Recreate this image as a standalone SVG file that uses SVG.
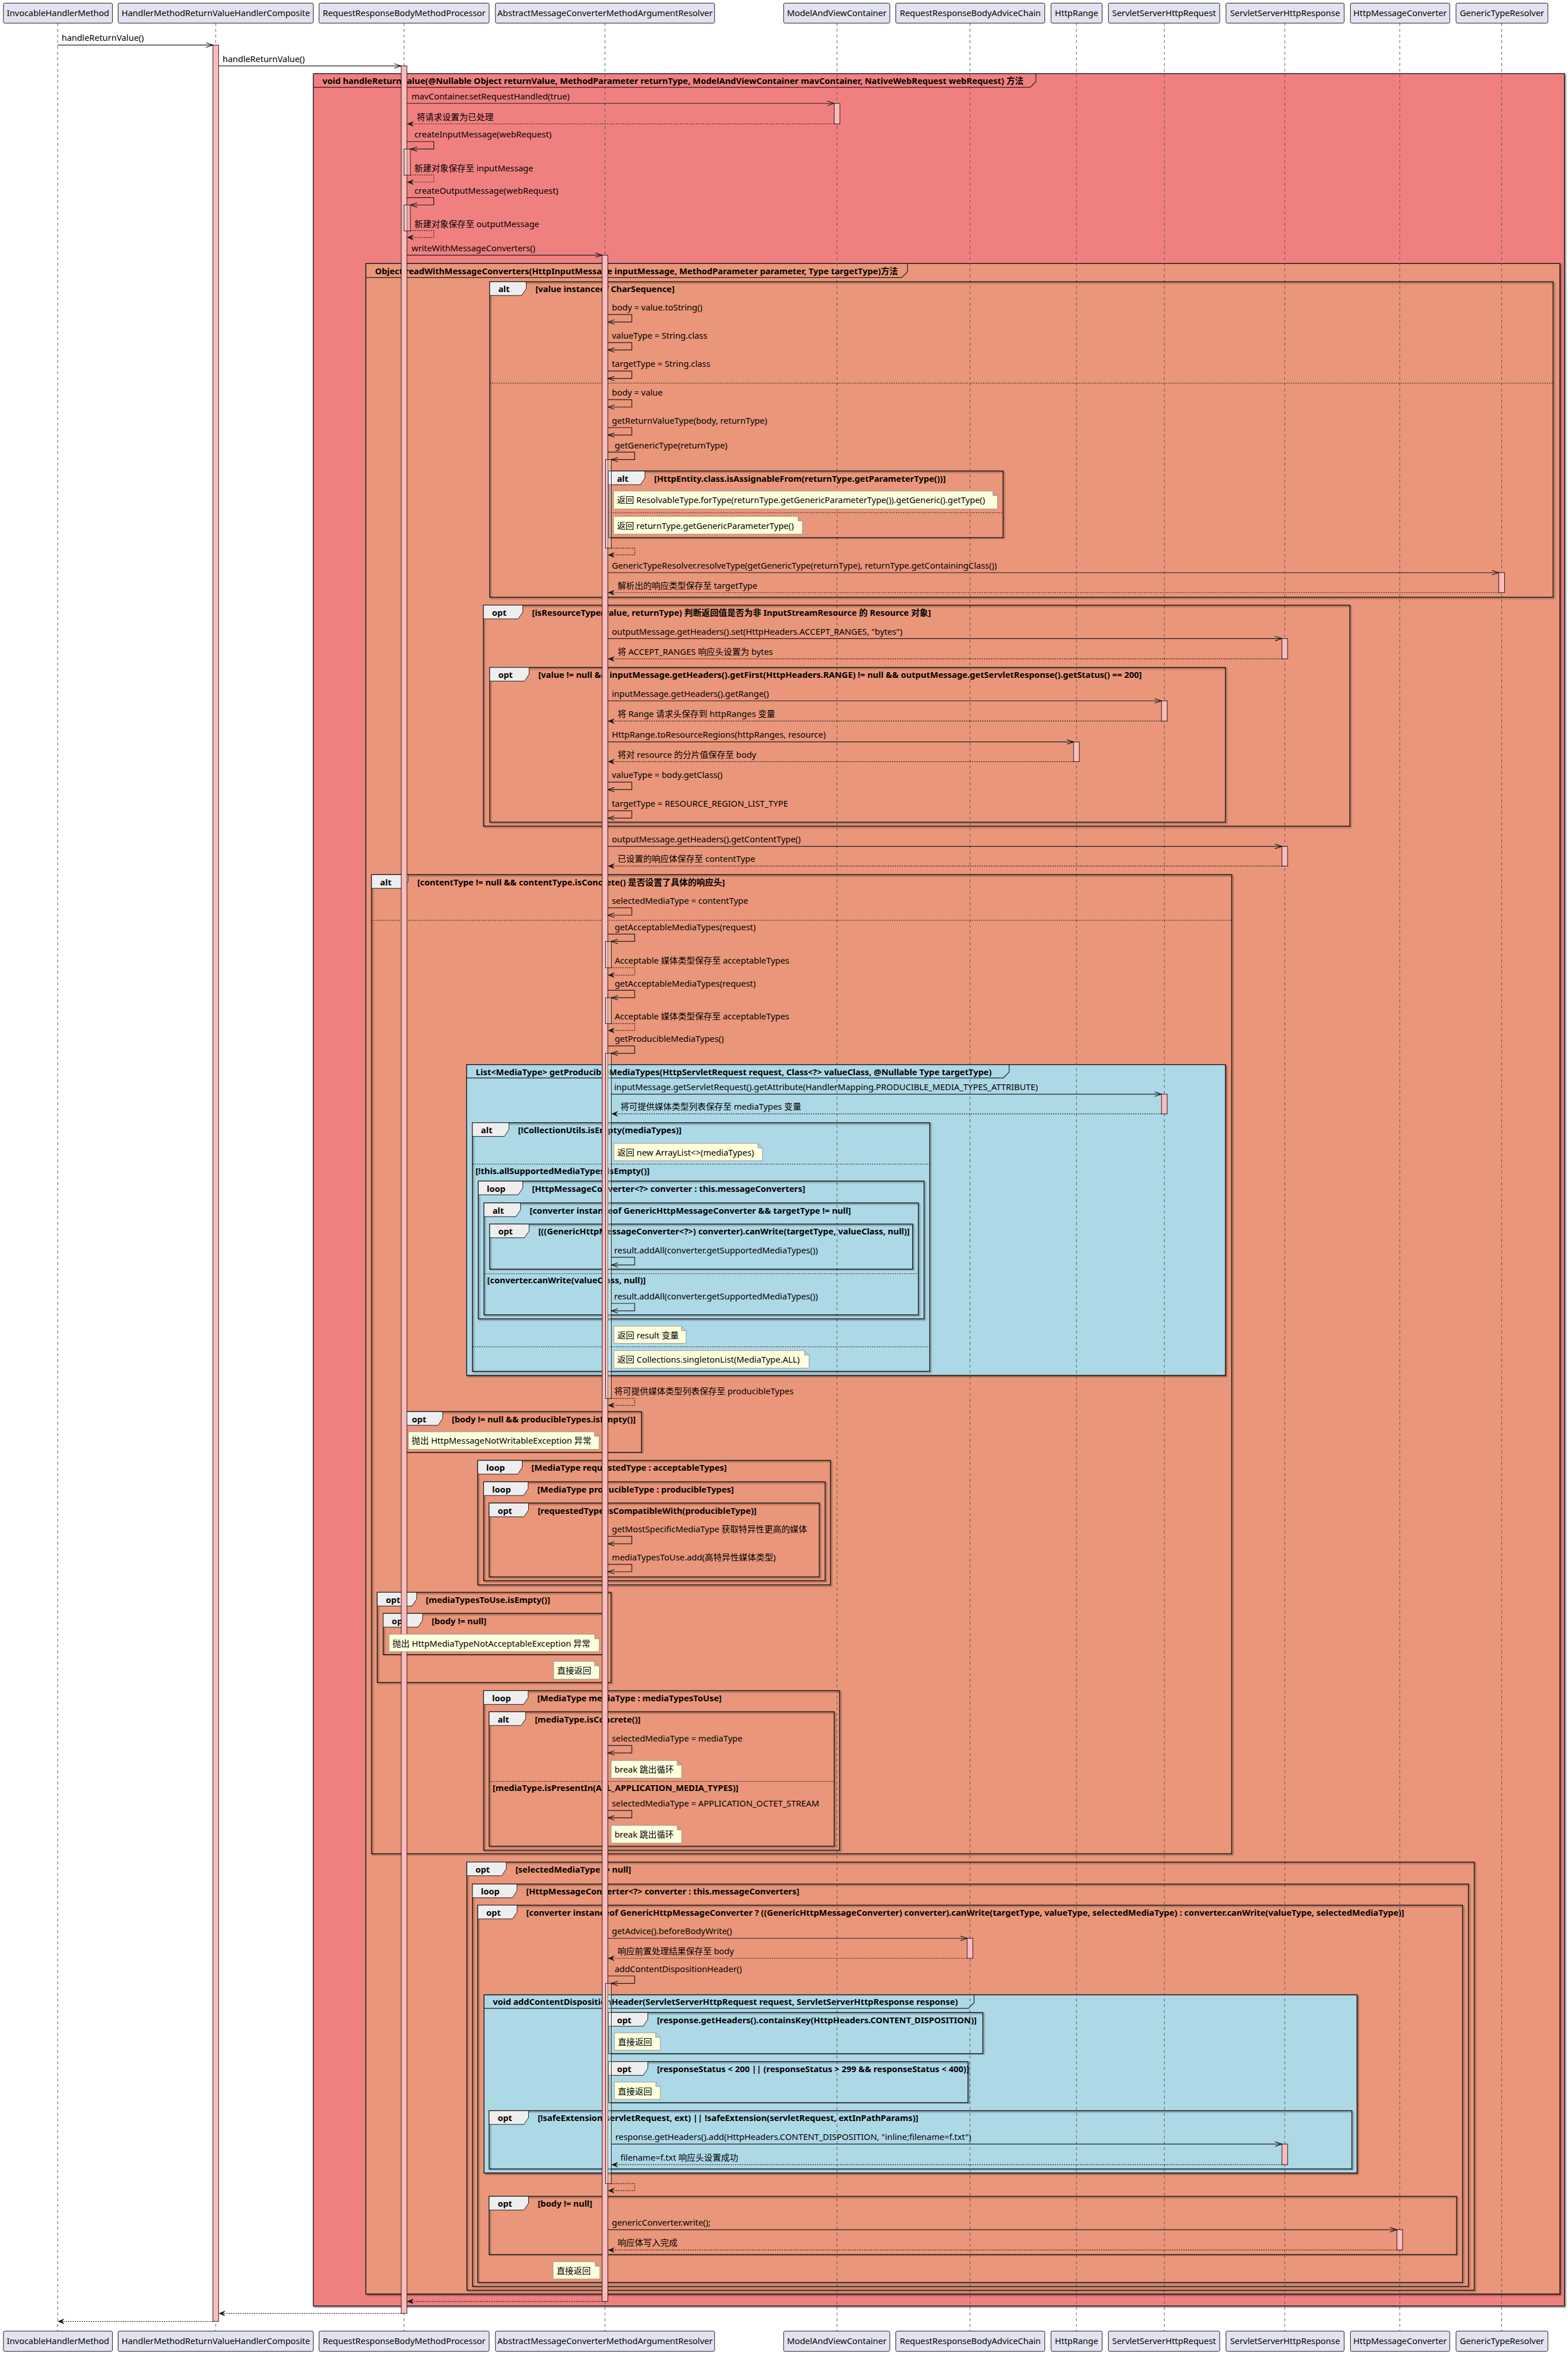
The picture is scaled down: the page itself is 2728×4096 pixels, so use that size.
<svg xmlns="http://www.w3.org/2000/svg" width="2728" height="4096" viewBox="0 0 2728 4096">
<defs>
<style>
text{font-family:"Noto Sans","Noto Sans CJK SC",sans-serif;font-size:15px;fill:#000}
.b{font-weight:bold}
.pt{text-anchor:middle}
.pb{fill:#E2E2F0;stroke:#181818;stroke-width:1}
.ll{stroke:#555;stroke-width:1;stroke-dasharray:5,5}
.fr{fill:none;stroke:#181818;stroke-width:1.5}
.tab{fill:#EEEEEE;stroke:#181818;stroke-width:1}
.gt{fill:none;stroke:#181818;stroke-width:1.2}
.sep{stroke:#181818;stroke-width:1;stroke-dasharray:2,2}
.act{fill:#FFBBBB;stroke:#181818;stroke-width:1}
.nact{fill:#FFFFFF;fill-opacity:.3;stroke:#181818;stroke-width:1}
.msg{fill:none;stroke:#181818;stroke-width:1.2;marker-end:url(#ao)}
.ret{fill:none;stroke:#181818;stroke-width:1.2;stroke-dasharray:2,2;marker-end:url(#af)}
.note{fill:#FEFFDD;stroke:#999;stroke-width:1}
</style>
<marker id="ao" markerWidth="14" markerHeight="10" refX="12" refY="5" orient="auto" markerUnits="userSpaceOnUse"><path d="M0,1 L12,5 L0,9" fill="none" stroke="#181818" stroke-width="1.2"/></marker>
<marker id="af" markerWidth="14" markerHeight="10" refX="12" refY="5" orient="auto" markerUnits="userSpaceOnUse"><path d="M0,0 L12,5 L0,10 L4,5 Z" fill="#181818"/></marker>
<filter id="sh" x="-2%" y="-2%" width="104%" height="104%"><feDropShadow dx="2" dy="2" stdDeviation="1" flood-color="#000" flood-opacity="0.45"/></filter>
</defs>
<rect x="0" y="0" width="2728" height="4096" fill="#FFFFFF"/>
<g transform="scale(0.993)">

<!-- group frames with fill -->
<g id="groups">
<rect x="549" y="129" width="2192" height="3910" fill="#F08080" stroke="#181818" stroke-width="1.5" filter="url(#sh)"/>
<path class="gt" d="M549,153 H1805 L1815,143 V129"/>
<text class="b" x="565" y="147">void handleReturnValue(@Nullable Object returnValue, MethodParameter returnType, ModelAndViewContainer mavContainer, NativeWebRequest webRequest) 方法</text>
<rect x="641" y="461.5" width="2092" height="3556.5" fill="#E9967A" stroke="#181818" stroke-width="1.5" filter="url(#sh)"/>
<path class="gt" d="M641,486 H1580 L1590,476 V461.5"/>
<text class="b" x="657" y="480">Object readWithMessageConverters(HttpInputMessage inputMessage, MethodParameter parameter, Type targetType)方法</text>
<rect x="817.5" y="1864.7" width="1329.5" height="544.3" fill="#ADD8E6" stroke="#181818" stroke-width="1.5" filter="url(#sh)"/>
<path class="gt" d="M817.5,1888 H1758 L1768,1878 V1864.7"/>
<text class="b" x="833.5" y="1883">List&lt;MediaType&gt; getProducibleMediaTypes(HttpServletRequest request, Class&lt;?&gt; valueClass, @Nullable Type targetType)</text>
<rect x="848" y="3494" width="1529.6" height="312" fill="#ADD8E6" stroke="#181818" stroke-width="1.5" filter="url(#sh)"/>
<path class="gt" d="M848,3517.7 H1696.6 L1706.6,3507.7 V3494"/>
<text class="b" x="863.5" y="3512">void addContentDispositionHeader(ServletServerHttpRequest request, ServletServerHttpResponse response)</text>
</g>

<!-- lifelines -->
<g id="lifelines">
<line class="ll" x1="101" y1="40.5" x2="101" y2="4083"/>
<line class="ll" x1="378" y1="40.5" x2="378" y2="4083"/>
<line class="ll" x1="708" y1="40.5" x2="708" y2="4083"/>
<line class="ll" x1="1060" y1="40.5" x2="1060" y2="4083"/>
<line class="ll" x1="1466.5" y1="40.5" x2="1466.5" y2="4083"/>
<line class="ll" x1="1699.5" y1="40.5" x2="1699.5" y2="4083"/>
<line class="ll" x1="1886" y1="40.5" x2="1886" y2="4083"/>
<line class="ll" x1="2040" y1="40.5" x2="2040" y2="4083"/>
<line class="ll" x1="2251" y1="40.5" x2="2251" y2="4083"/>
<line class="ll" x1="2452.5" y1="40.5" x2="2452.5" y2="4083"/>
<line class="ll" x1="2631" y1="40.5" x2="2631" y2="4083"/>
</g>

<!-- combined fragments -->
<g id="fragments">
<rect class="fr" filter="url(#sh)" x="858" y="493.5" width="1863" height="552.5"/>
<polygon class="tab" points="858,493.5 922,493.5 922,505.5 914,517.5 858,517.5"/>
<text class="b" x="873" y="512">alt</text><text class="b" x="938" y="512">[value instanceof CharSequence]</text>
<line class="sep" x1="858" y1="671" x2="2721" y2="671"/>

<rect class="fr" filter="url(#sh)" x="1066" y="825" width="691.5" height="116.6"/>
<polygon class="tab" points="1066,825 1130,825 1130,837 1122,849 1066,849"/>
<text class="b" x="1081" y="843.5">alt</text><text class="b" x="1146" y="843.5">[HttpEntity.class.isAssignableFrom(returnType.getParameterType())]</text>
<line class="sep" x1="1066" y1="898" x2="1757.5" y2="898"/>

<rect class="fr" filter="url(#sh)" x="847" y="1060" width="1518" height="387"/>
<polygon class="tab" points="847,1060 916,1060 916,1072 908,1084 847,1084"/>
<text class="b" x="862" y="1078.5">opt</text><text class="b" x="932" y="1078.5">[isResourceType(value, returnType) 判断返回值是否为非 InputStreamResource 的 Resource 对象]</text>

<rect class="fr" filter="url(#sh)" x="858" y="1169" width="1289" height="271"/>
<polygon class="tab" points="858,1169 927,1169 927,1181 919,1193 858,1193"/>
<text class="b" x="873" y="1187.5">opt</text><text class="b" x="943" y="1187.5">[value != null &amp;&amp; inputMessage.getHeaders().getFirst(HttpHeaders.RANGE) != null &amp;&amp; outputMessage.getServletResponse().getStatus() == 200]</text>

<rect class="fr" filter="url(#sh)" x="651" y="1532" width="1507" height="1715"/>
<polygon class="tab" points="651,1532 715,1532 715,1544 707,1556 651,1556"/>
<text class="b" x="666" y="1550.5">alt</text><text class="b" x="731" y="1550.5">[contentType != null &amp;&amp; contentType.isConcrete() 是否设置了具体的响应头]</text>
<line class="sep" x1="651" y1="1612" x2="2158" y2="1612"/>

<rect class="fr" filter="url(#sh)" x="827.7" y="1966.5" width="801.3" height="435.5"/>
<polygon class="tab" points="827.7,1966.5 891.7,1966.5 891.7,1978.5 883.7,1990.5 827.7,1990.5"/>
<text class="b" x="842.7" y="1985">alt</text><text class="b" x="907.7" y="1985">[!CollectionUtils.isEmpty(mediaTypes)]</text>
<line class="sep" x1="827.7" y1="2039" x2="1629" y2="2039"/>
<text class="b" x="833" y="2056">[!this.allSupportedMediaTypes.isEmpty()]</text>
<line class="sep" x1="827.7" y1="2359" x2="1629" y2="2359"/>

<rect class="fr" filter="url(#sh)" x="838" y="2068.75" width="781" height="241.25"/>
<polygon class="tab" points="838,2068.75 916,2068.75 916,2080.75 908,2092.75 838,2092.75"/>
<text class="b" x="853" y="2087.25">loop</text><text class="b" x="932" y="2087.25">[HttpMessageConverter&lt;?&gt; converter : this.messageConverters]</text>

<rect class="fr" filter="url(#sh)" x="848" y="2107" width="761" height="196"/>
<polygon class="tab" points="848,2107 912,2107 912,2119 904,2131 848,2131"/>
<text class="b" x="863" y="2125.5">alt</text><text class="b" x="928" y="2125.5">[converter instanceof GenericHttpMessageConverter &amp;&amp; targetType != null]</text>
<line class="sep" x1="848" y1="2231" x2="1609" y2="2231"/>
<text class="b" x="853.6" y="2248">[converter.canWrite(valueClass, null)]</text>

<rect class="fr" filter="url(#sh)" x="858" y="2144" width="741" height="79"/>
<polygon class="tab" points="858,2144 927,2144 927,2156 919,2168 858,2168"/>
<text class="b" x="873" y="2162.5">opt</text><text class="b" x="943" y="2162.5">[((GenericHttpMessageConverter&lt;?&gt;) converter).canWrite(targetType, valueClass, null)]</text>

<rect class="fr" filter="url(#sh)" x="706.5" y="2472.5" width="417.5" height="71.5"/>
<polygon class="tab" points="706.5,2472.5 775.5,2472.5 775.5,2484.5 767.5,2496.5 706.5,2496.5"/>
<text class="b" x="721.5" y="2491">opt</text><text class="b" x="791.5" y="2491">[body != null &amp;&amp; producibleTypes.isEmpty()]</text>

<rect class="fr" filter="url(#sh)" x="837" y="2558" width="618" height="218"/>
<polygon class="tab" points="837,2558 915,2558 915,2570 907,2582 837,2582"/>
<text class="b" x="852" y="2576.5">loop</text><text class="b" x="931" y="2576.5">[MediaType requestedType : acceptableTypes]</text>

<rect class="fr" filter="url(#sh)" x="847.4" y="2595.5" width="598.3" height="173.2"/>
<polygon class="tab" points="847.4,2595.5 925.4,2595.5 925.4,2607.5 917.4,2619.5 847.4,2619.5"/>
<text class="b" x="862.4" y="2614">loop</text><text class="b" x="941.4" y="2614">[MediaType producibleType : producibleTypes]</text>

<rect class="fr" filter="url(#sh)" x="857" y="2632.7" width="578.5" height="129.3"/>
<polygon class="tab" points="857,2632.7 926,2632.7 926,2644.7 918,2656.7 857,2656.7"/>
<text class="b" x="872" y="2651.2">opt</text><text class="b" x="942" y="2651.2">[requestedType.isCompatibleWith(producibleType)]</text>

<rect class="fr" filter="url(#sh)" x="661" y="2789" width="409.7" height="158"/>
<polygon class="tab" points="661,2789 730,2789 730,2801 722,2813 661,2813"/>
<text class="b" x="676" y="2807.5">opt</text><text class="b" x="746" y="2807.5">[mediaTypesToUse.isEmpty()]</text>

<rect class="fr" filter="url(#sh)" x="671.4" y="2826" width="388.6" height="72"/>
<polygon class="tab" points="671.4,2826 740.4,2826 740.4,2838 732.4,2850 671.4,2850"/>
<text class="b" x="686.4" y="2844.5">opt</text><text class="b" x="756.4" y="2844.5">[body != null]</text>

<rect class="fr" filter="url(#sh)" x="847.4" y="2961.3" width="623.6" height="279.4"/>
<polygon class="tab" points="847.4,2961.3 925.4,2961.3 925.4,2973.3 917.4,2985.3 847.4,2985.3"/>
<text class="b" x="862.4" y="2979.8">loop</text><text class="b" x="941.4" y="2979.8">[MediaType mediaType : mediaTypesToUse]</text>

<rect class="fr" filter="url(#sh)" x="857" y="2998.3" width="604.6" height="235.4"/>
<polygon class="tab" points="857,2998.3 921,2998.3 921,3010.3 913,3022.3 857,3022.3"/>
<text class="b" x="872" y="3016.8">alt</text><text class="b" x="937" y="3016.8">[mediaType.isConcrete()]</text>
<line class="sep" x1="857" y1="3120.3" x2="1461.6" y2="3120.3"/>
<text class="b" x="863" y="3137">[mediaType.isPresentIn(ALL_APPLICATION_MEDIA_TYPES)]</text>

<rect class="fr" filter="url(#sh)" x="818" y="3261.5" width="1765" height="749.9"/>
<polygon class="tab" points="818,3261.5 887,3261.5 887,3273.5 879,3285.5 818,3285.5"/>
<text class="b" x="833" y="3280">opt</text><text class="b" x="903" y="3280">[selectedMediaType != null]</text>

<rect class="fr" filter="url(#sh)" x="827.7" y="3300" width="1745" height="704.7"/>
<polygon class="tab" points="827.7,3300 905.7,3300 905.7,3312 897.7,3324 827.7,3324"/>
<text class="b" x="842.7" y="3318.5">loop</text><text class="b" x="921.7" y="3318.5">[HttpMessageConverter&lt;?&gt; converter : this.messageConverters]</text>

<rect class="fr" filter="url(#sh)" x="837" y="3337" width="1725.5" height="660.7"/>
<polygon class="tab" points="837,3337 906,3337 906,3349 898,3361 837,3361"/>
<text class="b" x="852" y="3355.5">opt</text><text class="b" x="922" y="3355.5">[converter instanceof GenericHttpMessageConverter ? ((GenericHttpMessageConverter) converter).canWrite(targetType, valueType, selectedMediaType) : converter.canWrite(valueType, selectedMediaType)]</text>

<rect class="fr" filter="url(#sh)" x="1066" y="3525" width="656" height="72"/>
<polygon class="tab" points="1066,3525 1135,3525 1135,3537 1127,3549 1066,3549"/>
<text class="b" x="1081" y="3543.5">opt</text><text class="b" x="1151" y="3543.5">[response.getHeaders().containsKey(HttpHeaders.CONTENT_DISPOSITION)]</text>

<rect class="fr" filter="url(#sh)" x="1066" y="3611" width="630" height="72"/>
<polygon class="tab" points="1066,3611 1135,3611 1135,3623 1127,3635 1066,3635"/>
<text class="b" x="1081" y="3629.5">opt</text><text class="b" x="1151" y="3629.5">[responseStatus &lt; 200 || (responseStatus &gt; 299 &amp;&amp; responseStatus &lt; 400)]</text>

<rect class="fr" filter="url(#sh)" x="857" y="3697" width="1511.6" height="102"/>
<polygon class="tab" points="857,3697 926,3697 926,3709 918,3721 857,3721"/>
<text class="b" x="872" y="3715.5">opt</text><text class="b" x="942" y="3715.5">[!safeExtension(servletRequest, ext) || !safeExtension(servletRequest, extInPathParams)]</text>

<rect class="fr" filter="url(#sh)" x="857" y="3847" width="1695" height="102"/>
<polygon class="tab" points="857,3847 926,3847 926,3859 918,3871 857,3871"/>
<text class="b" x="872" y="3865.5">opt</text><text class="b" x="942" y="3865.5">[body != null]</text>
</g>

<!-- activations -->
<g id="activations">
<rect class="act" x="373" y="79" width="10" height="3987"/>
<rect class="act" x="703" y="115.5" width="10" height="3936.5"/>
<rect class="act" x="1055" y="447" width="10" height="3584"/>
<rect class="act" x="1461.5" y="181" width="10" height="36"/>
<rect class="act" x="2626" y="1003" width="10" height="35"/>
<rect class="act" x="2246" y="1118.5" width="10" height="35.5"/>
<rect class="act" x="2035" y="1227.6" width="10" height="35.4"/>
<rect class="act" x="1881" y="1299.5" width="10" height="34.5"/>
<rect class="act" x="2246" y="1482.5" width="10" height="34.5"/>
<rect class="act" x="2035" y="1916.5" width="10" height="34.5"/>
<rect class="act" x="1694.5" y="3395" width="10" height="35"/>
<rect class="act" x="2246" y="3755.4" width="10" height="36.1"/>
<rect class="act" x="2447.5" y="3905.5" width="10" height="35.5"/>
<rect class="nact" x="708" y="261" width="11" height="46"/>
<rect class="nact" x="708" y="359" width="11" height="45.5"/>
<rect class="nact" x="1061" y="805" width="10" height="155"/>
<rect class="nact" x="1061" y="1649" width="10" height="46"/>
<rect class="nact" x="1061" y="1747.6" width="10" height="45.4"/>
<rect class="nact" x="1061" y="1845" width="10" height="604.5"/>
<rect class="nact" x="1061" y="3474" width="10" height="350.6"/>
</g>

<!-- connectors -->
<g id="connectors">
<path class="msg" d="M101,79 H373"/><text x="108" y="72">handleReturnValue()</text>
<path class="msg" d="M383,115.5 H703"/><text x="390" y="108.5">handleReturnValue()</text>
<path class="msg" d="M713,181 H1461.5"/><text x="721" y="174">mavContainer.setRequestHandled(true)</text>
<path class="ret" d="M1461.5,217 H713"/><text x="730" y="210">将请求设置为已处理</text>
<path class="msg" d="M713,248 H760 V261 H719"/><text x="726" y="241">createInputMessage(webRequest)</text>
<path class="ret" d="M719,306.5 H760 V319 H713"/><text x="726" y="300">新建对象保存至 inputMessage</text>
<path class="msg" d="M713,346 H760 V359 H719"/><text x="726" y="339">createOutputMessage(webRequest)</text>
<path class="ret" d="M719,404 H760 V416 H713"/><text x="726" y="398">新建对象保存至 outputMessage</text>
<path class="msg" d="M713,447 H1055"/><text x="721" y="440">writeWithMessageConverters()</text>

<path class="msg" d="M1065,551 H1107 V564 H1065"/><text x="1072" y="544">body = value.toString()</text>
<path class="msg" d="M1065,600 H1107 V613 H1065"/><text x="1072" y="593">valueType = String.class</text>
<path class="msg" d="M1065,650 H1107 V663 H1065"/><text x="1072" y="643">targetType = String.class</text>
<path class="msg" d="M1065,700 H1107 V713 H1065"/><text x="1072" y="693">body = value</text>
<path class="msg" d="M1065,749 H1107 V762 H1065"/><text x="1072" y="742">getReturnValueType(body, returnType)</text>
<path class="msg" d="M1065,792 H1112 V805 H1071"/><text x="1077" y="785">getGenericType(returnType)</text>
<path class="ret" d="M1071,960 H1112 V972 H1065"/>
<path class="msg" d="M1065,1003 H2626"/><text x="1072" y="996">GenericTypeResolver.resolveType(getGenericType(returnType), returnType.getContainingClass())</text>
<path class="ret" d="M2626,1038 H1065"/><text x="1082" y="1031">解析出的响应类型保存至 targetType</text>

<path class="msg" d="M1065,1118.5 H2246"/><text x="1072" y="1111.5">outputMessage.getHeaders().set(HttpHeaders.ACCEPT_RANGES, "bytes")</text>
<path class="ret" d="M2246,1154 H1065"/><text x="1082" y="1147">将 ACCEPT_RANGES 响应头设置为 bytes</text>
<path class="msg" d="M1065,1227.6 H2035"/><text x="1072" y="1220.6">inputMessage.getHeaders().getRange()</text>
<path class="ret" d="M2035,1263 H1065"/><text x="1082" y="1256">将 Range 请求头保存到 httpRanges 变量</text>
<path class="msg" d="M1065,1299.5 H1881"/><text x="1072" y="1292.5">HttpRange.toResourceRegions(httpRanges, resource)</text>
<path class="ret" d="M1881,1334 H1065"/><text x="1082" y="1327">将对 resource 的分片值保存至 body</text>
<path class="msg" d="M1065,1370 H1107 V1383 H1065"/><text x="1072" y="1363">valueType = body.getClass()</text>
<path class="msg" d="M1065,1420 H1107 V1433 H1065"/><text x="1072" y="1413">targetType = RESOURCE_REGION_LIST_TYPE</text>
<path class="msg" d="M1065,1482.5 H2246"/><text x="1072" y="1475.5">outputMessage.getHeaders().getContentType()</text>
<path class="ret" d="M2246,1517 H1065"/><text x="1082" y="1510">已设置的响应体保存至 contentType</text>

<path class="msg" d="M1065,1590 H1107 V1603 H1065"/><text x="1072" y="1583">selectedMediaType = contentType</text>
<path class="msg" d="M1065,1636 H1112 V1649 H1071"/><text x="1077" y="1629">getAcceptableMediaTypes(request)</text>
<path class="ret" d="M1071,1695 H1112 V1708 H1065"/><text x="1077" y="1688">Acceptable 媒体类型保存至 acceptableTypes</text>
<path class="msg" d="M1065,1734.6 H1112 V1747.6 H1071"/><text x="1077" y="1727.6">getAcceptableMediaTypes(request)</text>
<path class="ret" d="M1071,1793 H1112 V1805 H1065"/><text x="1077" y="1786">Acceptable 媒体类型保存至 acceptableTypes</text>
<path class="msg" d="M1065,1832 H1112 V1845 H1071"/><text x="1077" y="1825">getProducibleMediaTypes()</text>
<path class="msg" d="M1071,1916.5 H2035"/><text x="1076" y="1909.5">inputMessage.getServletRequest().getAttribute(HandlerMapping.PRODUCIBLE_MEDIA_TYPES_ATTRIBUTE)</text>
<path class="ret" d="M2035,1951 H1071"/><text x="1087" y="1944">将可提供媒体类型列表保存至 mediaTypes 变量</text>
<path class="msg" d="M1071,2202 H1112 V2215.6 H1071"/><text x="1076" y="2195">result.addAll(converter.getSupportedMediaTypes())</text>
<path class="msg" d="M1071,2283 H1112 V2296 H1071"/><text x="1076" y="2276">result.addAll(converter.getSupportedMediaTypes())</text>
<path class="ret" d="M1071,2449.5 H1112 V2461.6 H1065"/><text x="1076" y="2442.5">将可提供媒体类型列表保存至 producibleTypes</text>

<path class="msg" d="M1065,2691 H1107 V2704 H1065"/><text x="1072" y="2684">getMostSpecificMediaType 获取特异性更高的媒体</text>
<path class="msg" d="M1065,2740 H1107 V2753 H1065"/><text x="1072" y="2733">mediaTypesToUse.add(高特异性媒体类型)</text>
<path class="msg" d="M1065,3057.3 H1107 V3070.3 H1065"/><text x="1072" y="3050.3">selectedMediaType = mediaType</text>
<path class="msg" d="M1065,3171 H1107 V3184 H1065"/><text x="1072" y="3164">selectedMediaType = APPLICATION_OCTET_STREAM</text>

<path class="msg" d="M1065,3395 H1694.5"/><text x="1072" y="3388">getAdvice().beforeBodyWrite()</text>
<path class="ret" d="M1694.5,3430 H1065"/><text x="1082" y="3423">响应前置处理结果保存至 body</text>
<path class="msg" d="M1065,3461 H1112 V3474 H1071"/><text x="1077" y="3454">addContentDispositionHeader()</text>
<path class="msg" d="M1071,3755.4 H2246"/><text x="1078" y="3748.4">response.getHeaders().add(HttpHeaders.CONTENT_DISPOSITION, "inline;filename=f.txt")</text>
<path class="ret" d="M2246,3791.5 H1071"/><text x="1087" y="3784.5">filename=f.txt 响应头设置成功</text>
<path class="ret" d="M1071,3824.6 H1112 V3837 H1065"/>
<path class="msg" d="M1065,3905.5 H2447.5"/><text x="1072" y="3898.5">genericConverter.write();</text>
<path class="ret" d="M2447.5,3941 H1065"/><text x="1082" y="3934">响应体写入完成</text>

<path class="ret" d="M1055,4031 H713"/>
<path class="ret" d="M703,4052 H383"/>
<path class="ret" d="M373,4066 H101"/>
</g>

<!-- notes -->
<g id="notes">
<path class="note" d="M1075,860 H1739.6 L1747.6,868 V891.4 H1075 Z M1739.6,860 V868 H1747.6"/><text x="1081" y="881.5">返回 ResolvableType.forType(returnType.getGenericParameterType()).getGeneric().getType()</text>
<path class="note" d="M1075,904.5 H1398 L1406,912.5 V935.5 H1075 Z M1398,904.5 V912.5 H1406"/><text x="1081" y="926">返回 returnType.getGenericParameterType()</text>
<path class="note" d="M1075.5,2002.7 H1328 L1336,2010.7 V2033 H1075.5 Z M1328,2002.7 V2010.7 H1336"/><text x="1081.5" y="2024.2">返回 new ArrayList&lt;&gt;(mediaTypes)</text>
<path class="note" d="M1075.5,2322.8 H1194 L1202,2330.8 V2353 H1075.5 Z M1194,2322.8 V2330.8 H1202"/><text x="1081.5" y="2344.3">返回 result 变量</text>
<path class="note" d="M1075.5,2365.6 H1409.6 L1417.6,2373.6 V2396.4 H1075.5 Z M1409.6,2365.6 V2373.6 H1417.6"/><text x="1081.5" y="2387.1">返回 Collections.singletonList(MediaType.ALL)</text>
<path class="note" d="M715.4,2507.7 H1041.6 L1049.6,2515.7 V2538.6 H715.4 Z M1041.6,2507.7 V2515.7 H1049.6"/><text x="721.4" y="2529.2">抛出 HttpMessageNotWritableException 异常</text>
<path class="note" d="M681.6,2862.4 H1042 L1050,2870.4 V2893 H681.6 Z M1042,2862.4 V2870.4 H1050"/><text x="687.6" y="2883.9">抛出 HttpMediaTypeNotAcceptableException 异常</text>
<path class="note" d="M970,2910 H1042 L1050,2918 V2941 H970 Z M1042,2910 V2918 H1050"/><text x="976" y="2931.5">直接返回</text>
<path class="note" d="M1070.7,3083.7 H1186.4 L1194.4,3091.7 V3114.3 H1070.7 Z M1186.4,3083.7 V3091.7 H1194.4"/><text x="1076.7" y="3105.2">break 跳出循环</text>
<path class="note" d="M1070.7,3197.3 H1186.4 L1194.4,3205.3 V3228.3 H1070.7 Z M1186.4,3197.3 V3205.3 H1194.4"/><text x="1076.7" y="3218.8">break 跳出循环</text>
<path class="note" d="M1076.5,3560.7 H1149 L1157,3568.7 V3591 H1076.5 Z M1149,3560.7 V3568.7 H1157"/><text x="1082.5" y="3582.2">直接返回</text>
<path class="note" d="M1076.5,3646.7 H1149 L1157,3654.7 V3677 H1076.5 Z M1149,3646.7 V3654.7 H1157"/><text x="1082.5" y="3668.2">直接返回</text>
<path class="note" d="M969,3961.6 H1043 L1051,3969.6 V3991.7 H969 Z M1043,3961.6 V3969.6 H1051"/><text x="975" y="3983.1">直接返回</text>
</g>

<!-- participants -->
<g id="p1"><rect class="pb" x="6" y="5.5" width="191" height="35" rx="2.5"/><text class="pt" x="101.5" y="28">InvocableHandlerMethod</text><rect class="pb" x="6" y="4083" width="191" height="35.5" rx="2.5"/><text class="pt" x="101.5" y="4106">InvocableHandlerMethod</text></g>
<g id="p2"><rect class="pb" x="207" y="5.5" width="342" height="35" rx="2.5"/><text class="pt" x="378" y="28">HandlerMethodReturnValueHandlerComposite</text><rect class="pb" x="207" y="4083" width="342" height="35.5" rx="2.5"/><text class="pt" x="378" y="4106">HandlerMethodReturnValueHandlerComposite</text></g>
<g id="p3"><rect class="pb" x="559" y="5.5" width="298" height="35" rx="2.5"/><text class="pt" x="708" y="28">RequestResponseBodyMethodProcessor</text><rect class="pb" x="559" y="4083" width="298" height="35.5" rx="2.5"/><text class="pt" x="708" y="4106">RequestResponseBodyMethodProcessor</text></g>
<g id="p4"><rect class="pb" x="868" y="5.5" width="384" height="35" rx="2.5"/><text class="pt" x="1060" y="28">AbstractMessageConverterMethodArgumentResolver</text><rect class="pb" x="868" y="4083" width="384" height="35.5" rx="2.5"/><text class="pt" x="1060" y="4106">AbstractMessageConverterMethodArgumentResolver</text></g>
<g id="p5"><rect class="pb" x="1373" y="5.5" width="186" height="35" rx="2.5"/><text class="pt" x="1466" y="28">ModelAndViewContainer</text><rect class="pb" x="1373" y="4083" width="186" height="35.5" rx="2.5"/><text class="pt" x="1466" y="4106">ModelAndViewContainer</text></g>
<g id="p6"><rect class="pb" x="1569.5" y="5.5" width="261" height="35" rx="2.5"/><text class="pt" x="1700" y="28">RequestResponseBodyAdviceChain</text><rect class="pb" x="1569.5" y="4083" width="261" height="35.5" rx="2.5"/><text class="pt" x="1700" y="4106">RequestResponseBodyAdviceChain</text></g>
<g id="p7"><rect class="pb" x="1841.5" y="5.5" width="89.5" height="35" rx="2.5"/><text class="pt" x="1886.2" y="28">HttpRange</text><rect class="pb" x="1841.5" y="4083" width="89.5" height="35.5" rx="2.5"/><text class="pt" x="1886.2" y="4106">HttpRange</text></g>
<g id="p8"><rect class="pb" x="1942" y="5.5" width="195" height="35" rx="2.5"/><text class="pt" x="2039.5" y="28">ServletServerHttpRequest</text><rect class="pb" x="1942" y="4083" width="195" height="35.5" rx="2.5"/><text class="pt" x="2039.5" y="4106">ServletServerHttpRequest</text></g>
<g id="p9"><rect class="pb" x="2148" y="5.5" width="207" height="35" rx="2.5"/><text class="pt" x="2251.5" y="28">ServletServerHttpResponse</text><rect class="pb" x="2148" y="4083" width="207" height="35.5" rx="2.5"/><text class="pt" x="2251.5" y="4106">ServletServerHttpResponse</text></g>
<g id="p10"><rect class="pb" x="2366" y="5.5" width="174" height="35" rx="2.5"/><text class="pt" x="2453" y="28">HttpMessageConverter</text><rect class="pb" x="2366" y="4083" width="174" height="35.5" rx="2.5"/><text class="pt" x="2453" y="4106">HttpMessageConverter</text></g>
<g id="p11"><rect class="pb" x="2551" y="5.5" width="161" height="35" rx="2.5"/><text class="pt" x="2631.5" y="28">GenericTypeResolver</text><rect class="pb" x="2551" y="4083" width="161" height="35.5" rx="2.5"/><text class="pt" x="2631.5" y="4106">GenericTypeResolver</text></g>
</g>
</svg>
